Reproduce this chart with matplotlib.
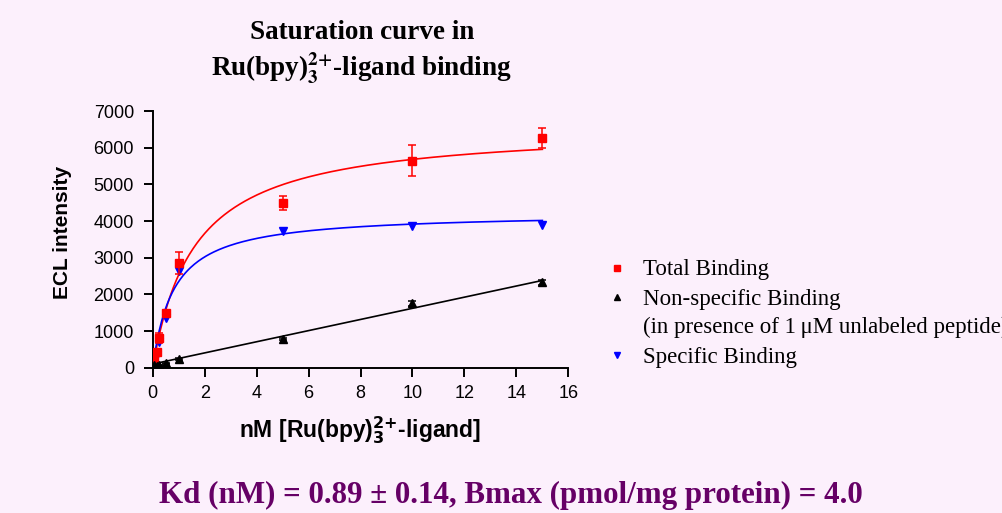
import numpy as np
import matplotlib
matplotlib.use('Agg')
import matplotlib.pyplot as plt
from matplotlib.lines import Line2D

conc = [0.06, 0.15, 0.25, 0.5, 1, 5, 10, 15]
total = [255, 440, 810, 1480, 2860, 4500, 5640, 6260]
total_err = [60, 60, 145, 60, 300, 190, 420, 280]
nonspec = [70, 55, 70, 120, 236, 773, 1756, 2330]
nonspec_err = [10, 10, 10, 10, 20, 30, 70, 70]
spec = [150, 350, 709, 1345, 2645, 3727, 3864, 3900]

# Fit-Parameter (Einzelbindungsstelle / linear)
total_bmax, total_kd = 6590, 1.6
spec_bmax, spec_kd = 4230, 0.8
ns_slope, ns_icpt = 152, 100

xticks = [0, 2, 4, 6, 8, 10, 12, 14, 16]
yticks = [0, 1000, 2000, 3000, 4000, 5000, 6000, 7000]

bg = '#fcf0fc'
sans = 'Liberation Sans'
serif = 'Liberation Serif'

fig = plt.figure(figsize=(10.02, 5.13), dpi=100, facecolor=bg)
ax = fig.add_axes([0.1524, 0.2832, 0.4148, 0.5004], facecolor=bg)

xf = np.linspace(0, 15, 300)
ax.plot(xf, total_bmax * xf / (total_kd + xf), color='#ff0000', lw=1.2)
ax.plot(xf, spec_bmax * xf / (spec_kd + xf), color='#0000ff', lw=1.2)
ax.plot(xf, ns_icpt + ns_slope * xf, color='black', lw=1.2)

ax.errorbar(conc, total, yerr=total_err, fmt='s', color='#ff0000', ms=5.5,
            capsize=3, elinewidth=1.1, capthick=1.1, zorder=4)
ax.errorbar(conc, nonspec, yerr=nonspec_err, fmt='^', color='black', ms=5.5,
            capsize=3, elinewidth=1.1, capthick=1.1, zorder=4)
ax.plot(conc, spec, 'v', color='#0000ff', ms=5.5, zorder=3)

ax.set_xlim(0, 16)
ax.set_ylim(0, 7000)
ax.set_xticks(xticks)
ax.set_yticks(yticks)
for s in ['top', 'right']:
    ax.spines[s].set_visible(False)
for s in ['left', 'bottom']:
    ax.spines[s].set_linewidth(1.4)
ax.tick_params(direction='out', length=6.5, width=1.4, labelsize=13)
ax.tick_params(axis='y', pad=7)
ax.tick_params(axis='x', pad=6)
for lab in ax.get_xticklabels() + ax.get_yticklabels():
    lab.set_fontfamily(sans)

ax.set_ylabel('ECL intensity', fontsize=15, fontweight='bold', family=sans)
ax.yaxis.set_label_coords(-0.193, 0.527)
xl = ax.set_xlabel(r'nM [Ru(bpy)$\mathbf{_3^{2{+}}}$-ligand]', fontsize=16.5,
                   fontweight='bold', family=sans, labelpad=9)
xl.set_math_fontfamily('dejavusans')

# Titel
fig.text(0.361, 0.936, 'Saturation curve in', ha='center', va='center',
         fontsize=19.5, fontweight='bold', family=serif)
t2 = fig.text(0.361, 0.866, r'Ru(bpy)$\mathbf{_3^{2{+}}}$-ligand binding', ha='center',
              va='center', fontsize=19.5, fontweight='bold', family=serif)
t2.set_math_fontfamily('stix')

# Legende (manuell)
leg = [(268, 'Total Binding', 's', '#ff0000'),
       (297, 'Non-specific Binding', '^', 'black'),
       (355, 'Specific Binding', 'v', '#0000ff')]
for ypix, txt, mk, col in leg:
    yf = 1 - ypix / 513
    fig.add_artist(Line2D([617 / 1002], [yf], marker=mk, color=col, ms=4.5,
                          ls='none', transform=fig.transFigure))
    fig.text(643 / 1002, 1 - (ypix + 2) / 513, txt, ha='left', va='center',
             fontsize=16.5, family=serif)
fig.text(643 / 1002, 1 - 327 / 513, '(in presence of 1\u2009\u03bcM unlabeled peptide)',
         ha='left', va='center', fontsize=16.5, family=serif)

fig.text(0.51, 1 - 495 / 513, 'Kd (nM) = 0.89 \u00b1 0.14, Bmax (pmol/mg protein) = 4.0',
         ha='center', va='center', fontsize=22.3, fontweight='bold', family=serif,
         color='#660066')

fig.savefig('out.png', dpi=100, facecolor=bg)
